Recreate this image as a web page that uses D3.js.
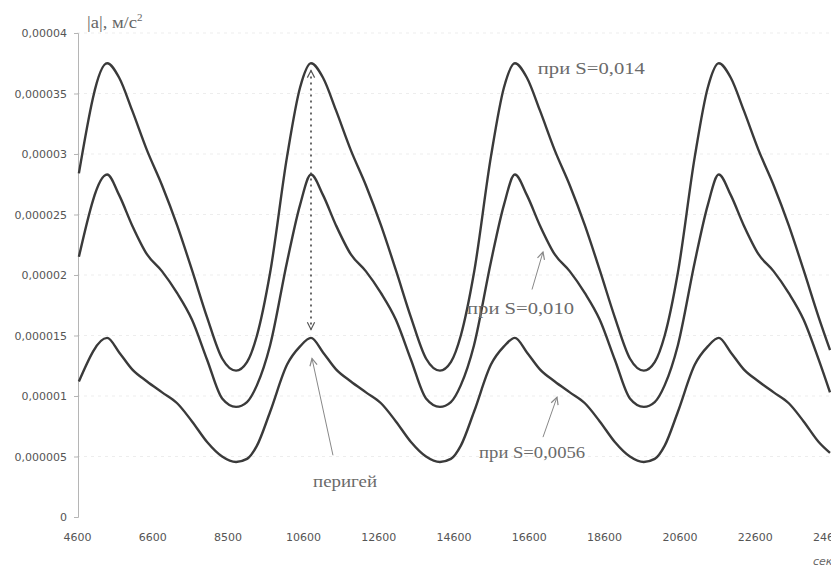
<!DOCTYPE html>
<html>
<head>
<meta charset="utf-8">
<script src="https://cdn.jsdelivr.net/npm/d3@7"></script>
<style>
  body { margin: 0; background: #fff; }
  svg { display: block; }
</style>
</head>
<body>
<div class="graph"></div>
<script>
// время, сек
const timeSec = [
    4650,
    5400, 5720, 6065, 6460, 6860, 7260, 7655, 8055, 8455, 8825, 9115, 9380, 9730, 10180, 10525,
    10815, 11135, 11480, 11875, 12275, 12675, 13070, 13470, 13870, 14240, 14530, 14795, 15145, 15595, 15940,
    16230, 16550, 16895, 17290, 17690, 18090, 18485, 18885, 19285, 19655, 19945, 20210, 20560, 21010, 21355,
    21645, 21965, 22310, 22705, 23105, 23505, 23900, 24300, 24600
];

// |a| в единицах 1e-6 м/с^2
const accS014 = [
    28.4,
    37.5, 36.3, 33.6, 30.3, 27.4, 24.1, 20.4, 16.5, 13.1, 12.1, 12.8, 15.0, 20.2, 29.8, 35.5,
    37.5, 36.3, 33.6, 30.3, 27.4, 24.1, 20.4, 16.5, 13.1, 12.1, 12.8, 15.0, 20.2, 29.8, 35.5,
    37.5, 36.3, 33.6, 30.3, 27.4, 24.1, 20.4, 16.5, 13.1, 12.1, 12.8, 15.0, 20.2, 29.8, 35.5,
    37.5, 36.3, 33.6, 30.3, 27.4, 24.1, 20.4, 16.5, 13.8
];
const accS010 = [
    21.5,
    28.3, 26.6, 24.1, 21.7, 20.3, 18.5, 16.3, 13.0, 9.8, 9.1, 9.5, 10.9, 14.2, 21.1, 25.8,
    28.3, 26.6, 24.1, 21.7, 20.3, 18.5, 16.3, 13.0, 9.8, 9.1, 9.5, 10.9, 14.2, 21.1, 25.8,
    28.3, 26.6, 24.1, 21.7, 20.3, 18.5, 16.3, 13.0, 9.8, 9.1, 9.5, 10.9, 14.2, 21.1, 25.8,
    28.3, 26.6, 24.1, 21.7, 20.3, 18.5, 16.3, 13.0, 10.3
];
const accS0056 = [
    11.2,
    14.8, 13.6, 12.2, 11.2, 10.3, 9.4, 7.9, 6.2, 5.0, 4.55, 4.8, 5.9, 8.7, 12.6, 14.1,
    14.8, 13.6, 12.2, 11.2, 10.3, 9.4, 7.9, 6.2, 5.0, 4.55, 4.8, 5.9, 8.7, 12.6, 14.1,
    14.8, 13.6, 12.2, 11.2, 10.3, 9.4, 7.9, 6.2, 5.0, 4.55, 4.8, 5.9, 8.7, 12.6, 14.1,
    14.8, 13.6, 12.2, 11.2, 10.3, 9.4, 7.9, 6.2, 5.3
];

const xTickValues = [4600, 6600, 8600, 10600, 12600, 14600, 16600, 18600, 20600, 22600, 24600];
const xTickLabels = ["4600", "6600", "8500", "10600", "12600", "14600", "16600", "18600", "20600", "22600", "24600"];
const yTickValues = [0, 5, 10, 15, 20, 25, 30, 35, 40];
const yTickLabels = ["0", "0,000005", "0,00001", "0,000015", "0,00002", "0,000025", "0,00003", "0,000035", "0,00004"];

const width = 831;
const height = 568;

const svg = d3.select(".graph")
    .append("svg")
    .attr("width", width)
    .attr("height", height);

const xScale = d3.scaleLinear().domain([4600, 24600]).range([77, 830]);
const yScale = d3.scaleLinear().domain([0, 40]).range([517, 33]);

// сетка
svg.append("g")
    .selectAll("line")
    .data(yTickValues.slice(1))
    .enter()
    .append("line")
    .attr("x1", xScale(4600))
    .attr("x2", xScale(24600))
    .attr("y1", d => yScale(d))
    .attr("y2", d => yScale(d))
    .attr("stroke", "#ededed")
    .attr("stroke-dasharray", "3,4");

// ось Y
const yAxis = svg.append("g")
    .attr("transform", `translate(${xScale(4600) + 1},0)`)
    .call(d3.axisLeft(yScale)
        .tickValues(yTickValues)
        .tickSize(4)
        .tickPadding(7)
        .tickFormat((d, i) => yTickLabels[i]));
yAxis.select(".domain").attr("stroke", "#b5b5b5");
yAxis.selectAll(".tick line").attr("stroke", "#b5b5b5");
yAxis.selectAll("text")
    .attr("fill", "#555")
    .style("font-family", "DejaVu Sans")
    .style("font-size", "11px");

// ось X
const xAxis = svg.append("g")
    .attr("transform", `translate(0,${yScale(0)})`)
    .call(d3.axisBottom(xScale)
        .tickValues(xTickValues)
        .tickSize(0)
        .tickPadding(16)
        .tickFormat((d, i) => xTickLabels[i]));
xAxis.select(".domain").remove();
xAxis.selectAll("text")
    .attr("fill", "#555")
    .style("font-family", "DejaVu Sans")
    .style("font-size", "11px");

// кривые
const line = d3.line()
    .x(d => xScale(d.t))
    .y(d => yScale(d.a))
    .curve(d3.curveMonotoneX);

[accS014, accS010, accS0056].forEach(series => {
    svg.append("path")
        .datum(timeSec.map((t, i) => ({ t: t, a: series[i] })))
        .attr("d", line)
        .attr("fill", "none")
        .attr("stroke", "#3a3a3a")
        .attr("stroke-width", 2.4);
});

// подписи
const serif = "Liberation Serif, Times New Roman, serif";

const yLabel = svg.append("text")
    .attr("x", 87)
    .attr("y", 28)
    .attr("fill", "#666")
    .style("font-family", serif)
    .style("font-size", "16px");
yLabel.append("tspan")
    .attr("textLength", 50)
    .attr("lengthAdjust", "spacingAndGlyphs")
    .text("|a|, м/с");
yLabel.append("tspan").attr("dy", -7).style("font-size", "11px").text("2");

const labels = [
    { t: 16840, a: 36.6, text: "при S=0,014", len: 107 },
    { t: 14960, a: 16.8, text: "при S=0,010", len: 107 },
    { t: 15280, a: 4.9, text: "при S=0,0056", len: 106 },
    { t: 10870, a: 2.5, text: "перигей", len: 64 }
];
svg.selectAll(".ann")
    .data(labels)
    .enter()
    .append("text")
    .attr("class", "ann")
    .attr("x", d => xScale(d.t))
    .attr("y", d => yScale(d.a))
    .attr("textLength", d => d.len)
    .attr("lengthAdjust", "spacingAndGlyphs")
    .attr("fill", "#6a6a6a")
    .style("font-family", serif)
    .style("font-size", "16px")
    .text(d => d.text);

svg.append("text")
    .attr("x", 813)
    .attr("y", 565)
    .attr("fill", "#666")
    .style("font-family", "DejaVu Sans")
    .style("font-size", "11px")
    .style("font-style", "italic")
    .text("сек");

// стрелки
function arrowHead(x, y, angle, size, color) {
    const a1 = angle + Math.PI * 0.85, a2 = angle - Math.PI * 0.85;
    svg.append("path")
        .attr("d", `M${x + size * Math.cos(a1)},${y + size * Math.sin(a1)}L${x},${y}L${x + size * Math.cos(a2)},${y + size * Math.sin(a2)}`)
        .attr("fill", "none")
        .attr("stroke", color)
        .attr("stroke-width", 1.2);
}

const arrows = [
    { t1: 16685, a1: 18.8, t2: 16977, a2: 21.9 },
    { t1: 16977, a1: 6.6, t2: 17349, a2: 9.9 },
    { t1: 11399, a1: 5.1, t2: 10842, a2: 13.1 }
];
arrows.forEach(d => {
    const x1 = xScale(d.t1), y1 = yScale(d.a1), x2 = xScale(d.t2), y2 = yScale(d.a2);
    svg.append("line")
        .attr("x1", x1).attr("y1", y1).attr("x2", x2).attr("y2", y2)
        .attr("stroke", "#888")
        .attr("stroke-width", 1);
    arrowHead(x2, y2, Math.atan2(y2 - y1, x2 - x1), 8, "#888");
});

// пунктирная стрелка в перигее
const px = xScale(10815), pTop = yScale(36.9), pBot = yScale(15.5);
svg.append("line")
    .attr("x1", px).attr("x2", px)
    .attr("y1", pTop).attr("y2", pBot)
    .attr("stroke", "#444")
    .attr("stroke-width", 1.6)
    .attr("stroke-dasharray", "2,4");
arrowHead(px, pTop, -Math.PI / 2, 8, "#555");
arrowHead(px, pBot, Math.PI / 2, 8, "#555");
</script>
</body>
</html>
